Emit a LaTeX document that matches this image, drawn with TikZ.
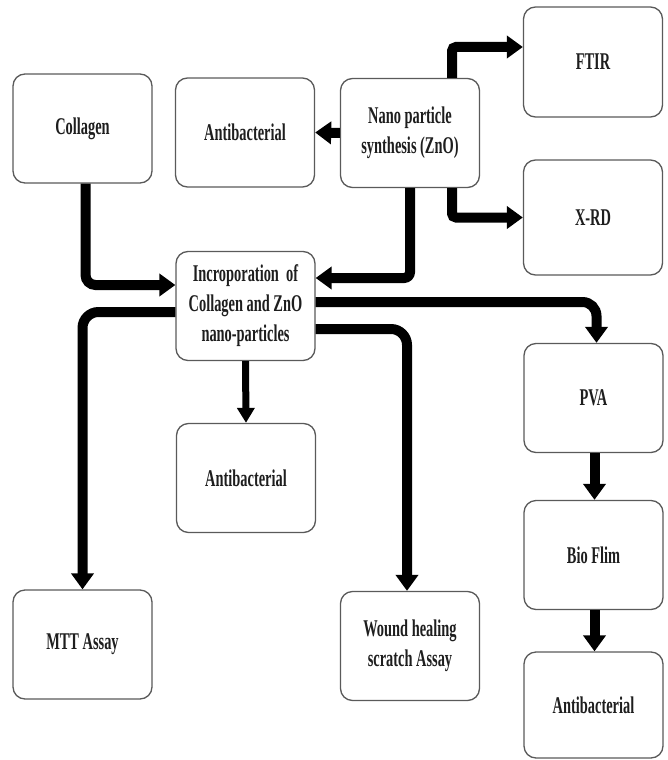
\documentclass[tikz,border=0pt]{standalone}
\usepackage{fontspec}
\usepackage{tikz}
\usetikzlibrary{arrows.meta,calc}
\newfontfamily\boxfont[FakeStretch=0.6]{Liberation Serif}
\definecolor{boxline}{HTML}{5A5A5A}
\definecolor{boxtext}{HTML}{1E1E1E}
\tikzset{
  box/.style={draw=boxline, line width=1.3pt, rounded corners=12pt, fill=white,
    minimum width=139pt, minimum height=109pt, align=center, text=boxtext,
    font=\boxfont\bfseries\fontsize{24}{30}\selectfont},
  flow/.style={line width=10pt, -{Triangle[width=22pt,length=16pt]}},
  thinflow/.style={line width=7pt, -{Triangle[width=17pt,length=15pt]}}
}

\begin{document}
\begin{tikzpicture}[x=1pt,y=-1pt]
\useasboundingbox (0,0) rectangle (668,760);

% boxes
\node[box] (collagen) at (82.5,128.5) {Collagen};
\node[box] (antiA) at (245,132.5) {Antibacterial};
\node[box] (nano) at (410,133) {Nano particle\\synthesis (ZnO)};
\node[box, minimum height=110pt] (ftir) at (593,62) {FTIR};
\node[box, minimum height=115pt] (xrd) at (593,217.5) {X-RD};
\node[box] (incorp) at (245.5,306) {Incroporation\ \ of\\Collagen and ZnO\\nano-particles};
\node[box] (antiB) at (246,478) {Antibacterial};
\node[box] (pva) at (593.5,398) {PVA};
\node[box] (bioflim) at (593.5,555) {Bio Flim};
\node[box, minimum height=106pt] (antiC) at (593.5,705) {Antibacterial};
\node[box] (mtt) at (82.5,644.5) {MTT Assay};
\node[box] (wound) at (410,646) {Wound healing\\scratch Assay};

% inputs of the incorporation step
\draw[flow, rounded corners=10pt] ([xshift=3pt]collagen.south) |- ($(incorp.west)+(0,-21)$);
\draw[flow, rounded corners=6pt] (nano.south) |- ($(incorp.east)+(0,-28)$);

% characterisation of the nano particles
\draw[flow, rounded corners=4pt] ($(nano.north)+(42,0)$) |- ($(ftir.west)+(0,-15)$);
\draw[flow, rounded corners=4pt] ($(nano.south)+(42,0)$) |- (xrd.west);
\draw[flow] (nano.west) -- (antiA.east);

% outputs of the incorporation step
\draw[flow, rounded corners=14pt] ($(incorp.east)+(0,-4)$) -| ([xshift=3pt]pva.north);
\draw[flow, rounded corners=16pt] ($(incorp.west)+(0,6)$) -| (mtt.north);
\draw[flow, rounded corners=16pt] ($(incorp.east)+(0,23)$) -| ([xshift=-3pt]wound.north);
\draw[thinflow] (incorp.south) -- (antiB.north);

% film branch
\draw[flow] ([xshift=1pt]pva.south) -- ([xshift=1pt]bioflim.north);
\draw[flow] ([xshift=1pt]bioflim.south) -- ([xshift=1pt]antiC.north);
\end{tikzpicture}
\end{document}
